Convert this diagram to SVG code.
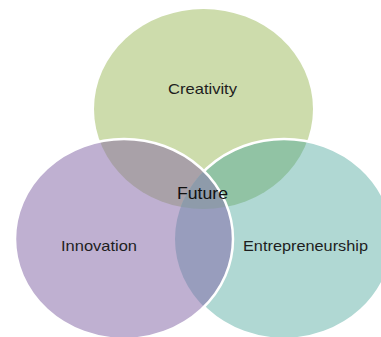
<svg xmlns="http://www.w3.org/2000/svg" width="381" height="337" viewBox="0 0 381 337">
  <style>
    .lbl { font-family: "Liberation Sans", Arial, sans-serif; font-size: 14.5px; fill: #1e1e1e; text-anchor: middle; }
    .fut { font-family: "Liberation Sans", Arial, sans-serif; font-size: 16px; fill: #111; text-anchor: middle; }
    .edge { fill: none; stroke: #ffffff; stroke-width: 2.5; }
  </style>
  <defs>
    <ellipse id="eG" cx="203.5" cy="109" rx="109.5" ry="100"/>
    <ellipse id="eP" cx="124" cy="239" rx="109" ry="100"/>
    <ellipse id="eT" cx="284" cy="239" rx="109" ry="100"/>
    <clipPath id="cG"><use href="#eG"/></clipPath>
    <clipPath id="cP"><use href="#eP"/></clipPath>
    <clipPath id="cT"><use href="#eT"/></clipPath>
    <mask id="notP" maskUnits="userSpaceOnUse" x="0" y="0" width="381" height="337">
      <rect x="0" y="0" width="381" height="337" fill="#fff"/>
      <use href="#eP" fill="#000"/>
    </mask>
  </defs>
  <rect x="0" y="0" width="381" height="337" fill="#ffffff"/>

  <g id="creativity">
    <use href="#eG" fill="#cddcac"/>
  </g>
  <g id="entrepreneurship">
    <use href="#eT" fill="#b0d8d3"/>
  </g>
  <g id="innovation">
    <use href="#eP" fill="#bfb0d1"/>
  </g>

  <g id="overlaps">
    <g clip-path="url(#cG)"><use href="#eP" fill="#a9a1a8"/></g>
    <g clip-path="url(#cG)"><use href="#eT" fill="#91c3a4"/></g>
    <g clip-path="url(#cP)"><use href="#eT" fill="#989dbd"/></g>
    <g clip-path="url(#cG)"><g clip-path="url(#cP)"><use href="#eT" fill="#8e9baa"/></g></g>
  </g>

  <g id="connectors">
    <use href="#eT" class="edge" mask="url(#notP)"/>
    <use href="#eP" class="edge"/>
  </g>

  <g id="labels">
    <text class="lbl" x="202.5" y="94" textLength="69" lengthAdjust="spacingAndGlyphs">Creativity</text>
    <text class="lbl" x="99" y="251" textLength="76" lengthAdjust="spacingAndGlyphs">Innovation</text>
    <text class="lbl" x="305.5" y="251" textLength="125" lengthAdjust="spacingAndGlyphs">Entrepreneurship</text>
    <text class="fut" x="202.5" y="199" textLength="51" lengthAdjust="spacingAndGlyphs">Future</text>
  </g>
</svg>
